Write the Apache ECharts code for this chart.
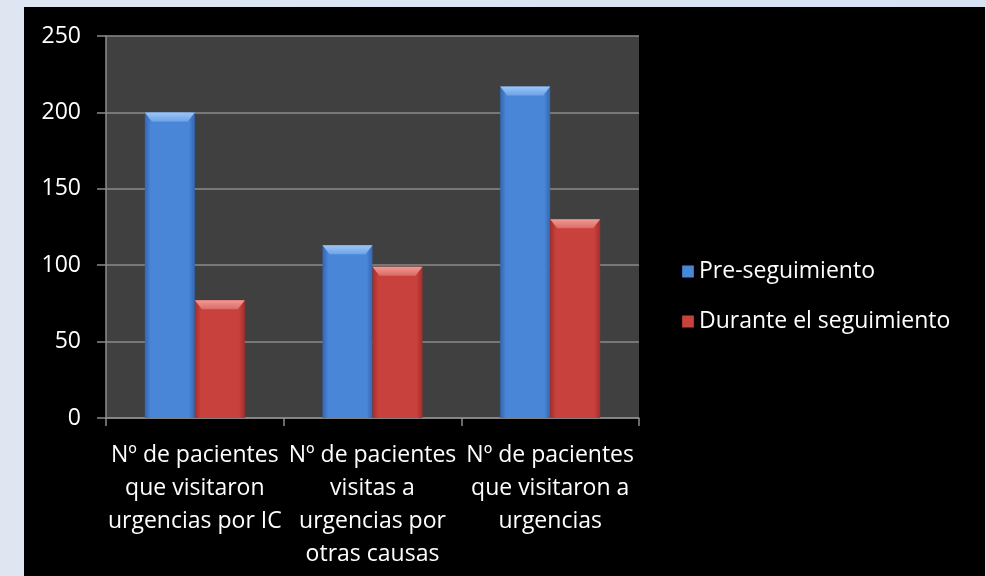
<!DOCTYPE html>
<html>
<head>
<meta charset="utf-8">
<script src="https://cdn.jsdelivr.net/npm/echarts@6/dist/echarts.min.js"></script>
<style>
  html, body { margin: 0; padding: 0; }
  body { width: 986px; height: 576px; background: linear-gradient(90deg, #dfe6f2 0%, #d6e2f2 100%); }
  #chart { width: 986px; height: 576px; }
</style>
</head>
<body>
<div id="chart"></div>
<script>
const categories = [
  'Nº de pacientes\nque visitaron\nurgencias por IC',
  'Nº de pacientes\nvisitas a\nurgencias por\notras causas',
  'Nº de pacientes\nque visitaron a\nurgencias'
];
const seriesNames = ['Pre-seguimiento', 'Durante el seguimiento'];
const preValues = [200, 113, 217];
const duringValues = [77, 99, 130];
const yTicks = [0, 50, 100, 150, 200, 250];

const FONT = '"Open Sans", "Noto Sans", sans-serif';
const FS = 23;

function sideGradient(edge, mid) {
  return new echarts.graphic.LinearGradient(0, 0, 1, 0, [
    { offset: 0, color: edge },
    { offset: 0.12, color: mid },
    { offset: 0.88, color: mid },
    { offset: 1, color: edge }
  ]);
}

const blueFill = sideGradient('#3366b0', '#4a86d8');
const redFill = sideGradient('#a42d2a', '#c9413d');
const blueCap = new echarts.graphic.LinearGradient(0, 0, 0, 1, [
  { offset: 0, color: '#9cc6f6' }, { offset: 1, color: '#6ea3e8' }
]);
const redCap = new echarts.graphic.LinearGradient(0, 0, 0, 1, [
  { offset: 0, color: '#f09a95' }, { offset: 1, color: '#db6a65' }
]);

// bevelled cap drawn on the top end of each bar
const capPath = 'path://M0,0 L100,0 L86,100 L14,100 Z';

const chart = echarts.init(document.getElementById('chart'));
chart.setOption({
  animation: false,
  graphic: [
    { type: 'rect', shape: { x: 24, y: 7, width: 961, height: 569 }, style: { fill: '#000000' }, z: -10 },
    { type: 'rect', shape: { x: 106, y: 36, width: 533, height: 382 }, style: { fill: '#404040' }, z: -9 }
  ],
  legend: {
    orient: 'vertical',
    left: 677,
    top: 255,
    itemWidth: 12,
    itemHeight: 12,
    itemGap: 27,
    icon: 'rect',
    textStyle: { color: '#ffffff', fontSize: FS, fontFamily: FONT },
    data: seriesNames
  },
  grid: { left: 106, top: 36, width: 533, height: 382, containLabel: false },
  xAxis: {
    type: 'category',
    data: categories,
    axisLine: { show: true, lineStyle: { color: '#8c8c8c', width: 1.5 } },
    axisTick: { show: true, length: 8, lineStyle: { color: '#8c8c8c', width: 1.5 } },
    axisLabel: {
      color: '#ffffff', fontSize: FS, fontFamily: FONT, lineHeight: 33,
      margin: 21, interval: 0
    }
  },
  yAxis: {
    type: 'value',
    min: 0,
    max: 250,
    interval: 50,
    axisLine: { show: true, lineStyle: { color: '#8c8c8c', width: 1.5 } },
    axisTick: { show: true, length: 9, lineStyle: { color: '#8c8c8c', width: 1.5 } },
    splitLine: { show: true, lineStyle: { color: '#8a8a8a', width: 1.5 } },
    axisLabel: {
      color: '#ffffff', fontSize: FS, fontFamily: FONT, margin: 25,
      formatter: v => yTicks.includes(v) ? String(v) : ''
    }
  },
  series: [
    {
      name: seriesNames[0], type: 'bar', data: preValues,
      barWidth: 50, barGap: '0%',
      itemStyle: { color: blueFill },
      z: 2
    },
    {
      name: seriesNames[1], type: 'bar', data: duringValues,
      barWidth: 50, barGap: '0%',
      itemStyle: { color: redFill },
      z: 2
    },
    {
      name: seriesNames[0] + ' cap', type: 'pictorialBar', data: preValues,
      symbol: capPath, symbolSize: [50, 9], symbolPosition: 'end',
      barWidth: 50, barGap: '0%',
      itemStyle: { color: blueCap }, z: 3, silent: true
    },
    {
      name: seriesNames[1] + ' cap', type: 'pictorialBar', data: duringValues,
      symbol: capPath, symbolSize: [50, 9], symbolPosition: 'end',
      barWidth: 50, barGap: '0%',
      itemStyle: { color: redCap }, z: 3, silent: true
    }
  ]
});
</script>
</body>
</html>
